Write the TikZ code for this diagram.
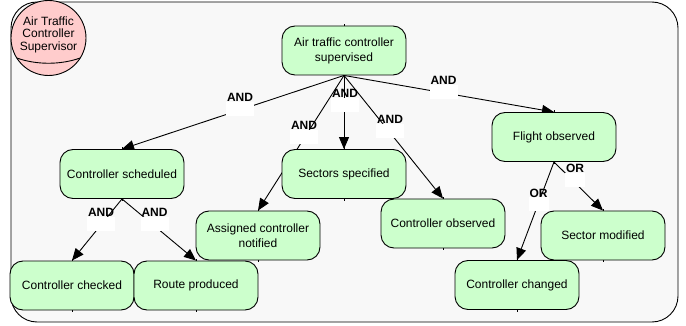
\documentclass[tikz,border=0pt]{standalone}
\usepackage{fontspec}
\setmainfont{Liberation Sans}
\usetikzlibrary{arrows.meta,shapes.geometric}
\definecolor{boxgray}{HTML}{F8F8F8}
\definecolor{goalgreen}{HTML}{CCFFCC}
\definecolor{actorpink}{HTML}{FFCCCC}
\pgfdeclarelayer{bglayer}
\pgfdeclarelayer{edgelayer}
\pgfsetlayers{bglayer,edgelayer,main}
\tikzset{
  goal/.style={draw=black, line width=0.9pt, fill=goalgreen, rounded corners=13pt,
    minimum width=124pt, minimum height=49pt, align=center, inner sep=2pt,
    font=\fontsize{12}{15}\selectfont},
  actor/.style={circle, draw=black, line width=0.9pt, fill=actorpink, minimum size=75pt,
    inner sep=0pt, align=center, font=\fontsize{12}{12.5}\selectfont},
  conn/.style={draw=black, line width=0.9pt, -{Triangle[length=12pt,width=10pt]}},
  lblbox/.style={fill=white, minimum width=28pt, minimum height=14pt, inner sep=0pt, anchor=north},
  lbltext/.style={font=\fontsize{12}{14}\selectfont\bfseries, inner sep=0pt, anchor=base},
  porttick/.style={draw=black, line width=1pt}
}
\begin{document}
\begin{tikzpicture}[x=1pt,y=-1pt]
\useasboundingbox (0,0) rectangle (686,326);
\begin{pgfonlayer}{bglayer}
  \draw[line width=0.9pt, fill=boxgray, rounded corners=26pt] (11,2) rectangle (678,322);
\end{pgfonlayer}
% actor
\node[actor] (sup) at (48.5,38) {Air Traffic\\Controller\\Supervisor\rule[-9pt]{0pt}{9pt}};
\draw[line width=0.9pt] ([shift={(-31.7,20)}]sup.center) .. controls ([shift={(-12,27)}]sup.center) and ([shift={(12,27)}]sup.center) .. ([shift={(31.7,20)}]sup.center);
% goals
\node[goal] (top) at (344,50.5) {Air traffic controller\\supervised};
\node[goal] (sched) at (122,174) {Controller scheduled};
\node[goal] (sect) at (344,174) {Sectors specified};
\node[goal] (assig) at (258,235.5) {Assigned controller\\notified};
\node[goal] (cobs) at (443,223.5) {Controller observed};
\node[goal] (flight) at (554,137) {Flight observed};
\node[goal] (smod) at (603,235.5) {Sector modified};
\node[goal] (cchg) at (517,285) {Controller changed};
\node[goal] (cchk) at (72,285.5) {Controller checked};
\node[goal] (route) at (196,285.5) {Route produced};
\foreach \n in {top,sched,sect,assig,cobs,flight,smod,cchg,cchk,route}{
  \draw[porttick] (\n.north) -- ++(0,-2);
  \draw[porttick] (\n.south) -- ++(0,2);
}
% connectors
\begin{pgfonlayer}{edgelayer}
  \draw[conn] (top.south) -- (sched.north);
  \draw[conn] (top.south) -- (sect.north);
  \draw[conn] (top.south) -- (assig.north);
  \draw[conn] (top.south) -- (cobs.north);
  \draw[conn] (top.south) -- (flight.north);
  \draw[conn] (sched.south) -- (cchk.north);
  \draw[conn] (sched.south) -- (route.north);
  \draw[conn] (flight.south) -- (cchg.north);
  \draw[conn] (flight.south) -- (smod.north);
  % label backgrounds
  \node[lblbox] (b1) at (240,102) {};
  \node[lblbox] (b2) at (345,98) {};
  \node[lblbox] (b3) at (304,130) {};
  \node[lblbox] (b4) at (390,124) {};
  \node[lblbox] (b5) at (443.5,85) {};
  \node[lblbox] (b6) at (101,216.5) {};
  \node[lblbox] (b7) at (154.5,216.5) {};
  \node[lblbox, minimum width=20pt] (b8) at (538.5,197) {};
  \node[lblbox, minimum width=20pt] (b9) at (575,173) {};
\end{pgfonlayer}
% label texts
\node[lbltext] (t1) at (b1.north) {AND};
\node[lbltext] (t2) at (b2.north) {AND};
\node[lbltext] (t3) at (b3.north) {AND};
\node[lbltext] (t4) at (b4.north) {AND};
\node[lbltext] (t5) at (b5.north) {AND};
\node[lbltext] (t6) at (b6.north) {AND};
\node[lbltext] (t7) at (b7.north) {AND};
\node[lbltext] (t8) at (b8.north) {OR};
\node[lbltext] (t9) at (b9.north) {OR};
\end{tikzpicture}
\end{document}
